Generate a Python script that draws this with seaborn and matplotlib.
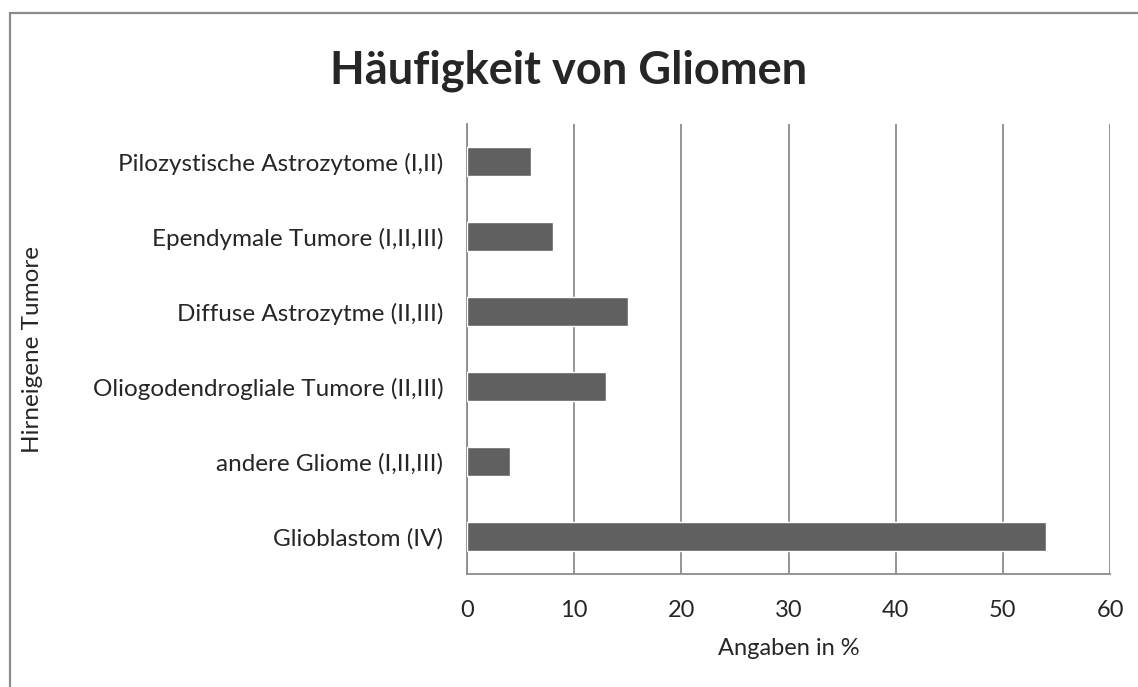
import numpy as np
import pandas as pd
from matplotlib import pyplot as plt
from matplotlib.patches import Rectangle
import seaborn as sns

categories = ["Pilozystische Astrozytome (I,II)",
              "Ependymale Tumore (I,II,III)",
              "Diffuse Astrozytme (II,III)",
              "Oliogodendrogliale Tumore (II,III)",
              "andere Gliome (I,II,III)",
              "Glioblastom (IV)"]
anteil = [6, 8, 15, 13, 4, 54]
x_ticks = [0, 10, 20, 30, 40, 50, 60]

df = pd.DataFrame({"Tumor": categories, "Anteil": anteil})

sns.set_style("white")
plt.rcParams['font.family'] = ['Lato', 'DejaVu Sans']

fig = plt.figure(figsize=(11.38, 6.87), dpi=100)
ax = fig.add_axes([0.4104, 0.1645, 0.5650, 0.6545])

grid_col = "#8c8c8c"
sns.barplot(data=df, x="Anteil", y="Tumor", color="#606060", saturation=1,
            width=0.39, ax=ax, zorder=3)

ax.set_xlim(0, 60)
ax.set_ylim(5.5, -0.5)
ax.set_xticks(x_ticks)
ax.set_xticklabels([str(t) for t in x_ticks], fontsize=17)
ax.set_yticks(range(len(categories)))
ax.set_yticklabels(categories, fontsize=17.5)
ax.set_yticks(np.arange(-0.5, len(categories), 1), minor=True)
ax.tick_params(axis="y", which="major", length=0, pad=17)
ax.tick_params(axis="y", which="minor", length=6, width=1.2, color=grid_col, direction="out")
ax.tick_params(axis="x", length=6, width=1.2, color=grid_col, direction="out", pad=13)

ax.grid(axis="x", color=grid_col, linewidth=1.3, zorder=0)
for s in ["top", "right"]:
    ax.spines[s].set_visible(False)
for s in ["left", "bottom"]:
    ax.spines[s].set_color(grid_col)
    ax.spines[s].set_linewidth(1.3)

ax.set_xlabel("Angaben in %", fontsize=17, labelpad=12)
ax.set_ylabel("Hirneigene Tumore", fontsize=17.5)
ax.yaxis.set_label_coords(-0.66, 0.5)

fig.text(0.5, 0.897, "Häufigkeit von Gliomen", ha="center", va="center",
         fontsize=32.5, fontweight="bold")

# outer chart frame
fig.patches.append(Rectangle((0.0092, -0.1), 1.2, 0.9810 + 0.1, transform=fig.transFigure,
                             fill=False, edgecolor="#8c8c8c", linewidth=1.6))

fig.savefig("out.png", dpi=100)
